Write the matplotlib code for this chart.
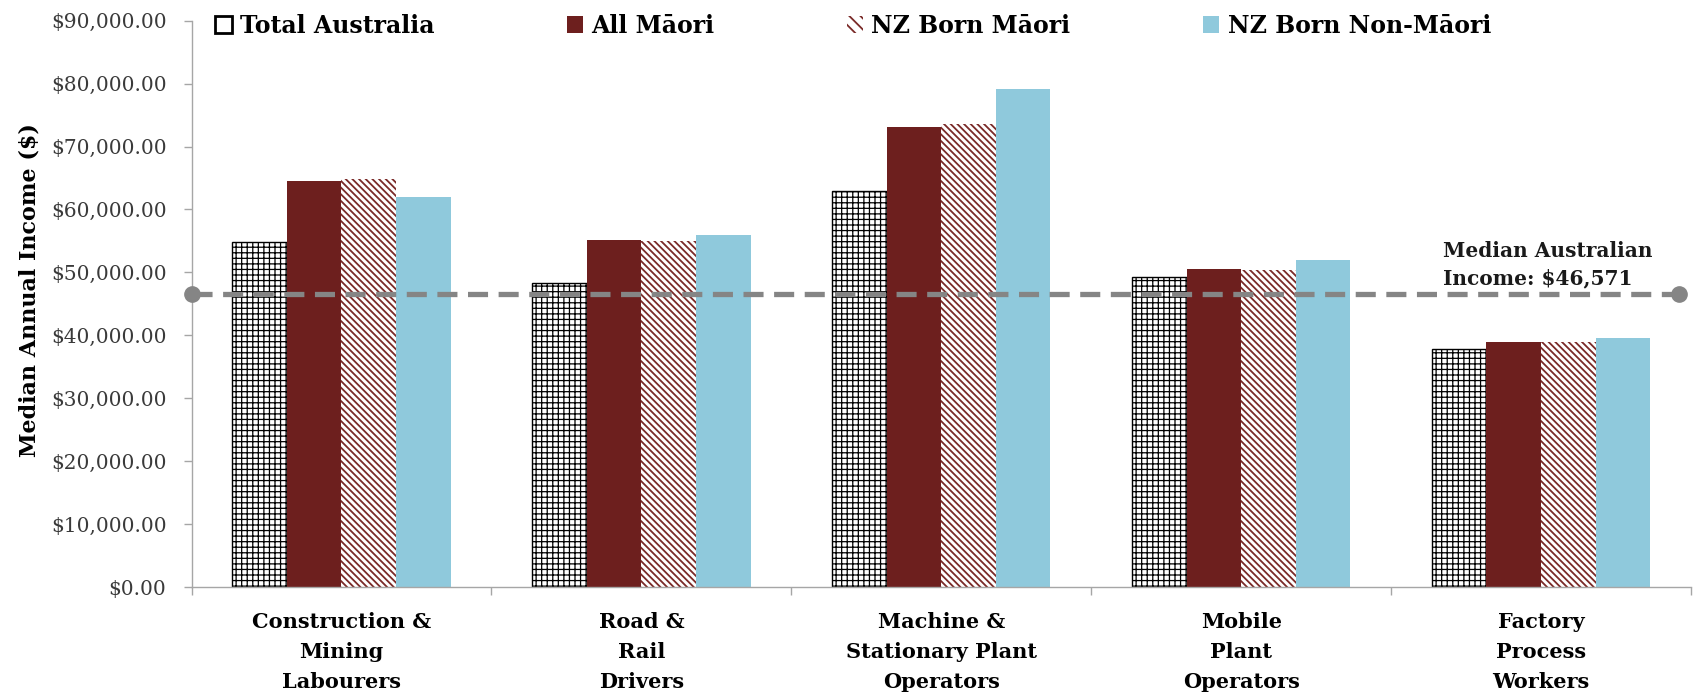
import numpy as np
import matplotlib
matplotlib.use("Agg")
import matplotlib.pyplot as plt
from matplotlib.patches import Patch
from matplotlib.ticker import FuncFormatter, FixedLocator

# Occupation groups and median annual income by population group
occupations = [
    "Construction &\nMining\nLabourers",
    "Road &\nRail\nDrivers",
    "Machine &\nStationary Plant\nOperators",
    "Mobile\nPlant\nOperators",
    "Factory\nProcess\nWorkers",
]
total_australia = [54800, 48300, 62900, 49300, 37900]
all_maori = [64600, 55100, 73100, 50600, 39000]
nz_born_maori = [64800, 55000, 73600, 50400, 38900]
nz_born_non_maori = [62000, 55900, 79100, 52000, 39600]
series_names = ["Total Australia", "All M\u0101ori", "NZ Born M\u0101ori", "NZ Born Non-M\u0101ori"]
median_income = 46571
median_label = "Median Australian\nIncome: $46,571"
y_ticks = np.arange(0, 90001, 10000)

DARK_RED = "#6D1F1E"
STRIPE_RED = "#7A2A28"
LIGHT_BLUE = "#8FC9DC"
AXIS_GREY = "#A6A6A6"
LINE_GREY = "#858585"

plt.rcParams["font.family"] = ["DejaVu Serif"]

fig = plt.figure(figsize=(17.04, 7.0), dpi=100)
W, H = 1704, 700
ax = fig.add_axes([191.5 / W, 1 - 587 / H, (1691 - 191.5) / W, (587 - 20.7) / H])

x = np.arange(len(occupations))
w = 0.182

plt.rcParams["hatch.linewidth"] = 0.9
ax.bar(x - 1.5 * w, total_australia, w, facecolor="white", edgecolor="black",
       hatch="+++", linewidth=1.0)
ax.bar(x - 0.5 * w, all_maori, w, color=DARK_RED, linewidth=0)
plt.rcParams["hatch.linewidth"] = 1.3
ax.bar(x + 0.5 * w, nz_born_maori, w, facecolor="white", edgecolor=STRIPE_RED,
       hatch="\\\\\\\\\\", linewidth=0)
ax.bar(x + 1.5 * w, nz_born_non_maori, w, color=LIGHT_BLUE, linewidth=0)

# Median income reference line with round end caps
line_x = [-0.5, 4.46]
ax.plot(line_x, [median_income] * 2, color=LINE_GREY, lw=3.8,
        dashes=(3.8, 2.0), zorder=5, clip_on=False)
ax.plot(line_x, [median_income] * 2, "o", color=LINE_GREY, ms=11, zorder=6,
        clip_on=False)
ax.text(3.673, 51200, median_label, ha="left", va="center", fontsize=14.5,
        fontweight="bold", linespacing=1.45, color="#1a1a1a")

ax.set_xlim(-0.5, 4.5)
ax.set_ylim(0, 90000)

ax.set_yticks(y_ticks)
ax.yaxis.set_major_formatter(FuncFormatter(lambda v, p: "${:,.2f}".format(v)))
ax.tick_params(axis="y", direction="out", length=6, width=1, color=AXIS_GREY,
               pad=12, labelsize=14.5, labelcolor="#3a3a3a")

ax.set_xticks(x)
ax.set_xticklabels(occupations, fontsize=15, fontweight="bold", linespacing=1.62)
ax.tick_params(axis="x", which="major", length=0, pad=18)
ax.xaxis.set_minor_locator(FixedLocator(np.arange(-0.5, 4.6, 1.0)))
ax.tick_params(axis="x", which="minor", direction="out", length=6, width=1,
               color=AXIS_GREY)

for side in ("top", "right"):
    ax.spines[side].set_visible(False)
for side in ("left", "bottom"):
    ax.spines[side].set_color(AXIS_GREY)
    ax.spines[side].set_linewidth(1.0)

fig.text(30 / W, 1 - 290 / H, "Median Annual Income ($)", rotation=90,
         ha="center", va="center", fontsize=16, fontweight="bold")

handles = [
    Patch(facecolor="white", edgecolor="black", linewidth=2.0),
    Patch(facecolor=DARK_RED, linewidth=0),
    Patch(facecolor="white", edgecolor=STRIPE_RED, hatch="\\\\\\", linewidth=0),
    Patch(facecolor=LIGHT_BLUE, linewidth=0),
]
fig.legend(handles, series_names, loc="center left",
           bbox_to_anchor=(215 / W, 1 - 26 / H), ncol=4, frameon=False,
           prop={"size": 17, "weight": "bold"}, handlelength=0.7,
           handleheight=0.75, handletextpad=0.35, columnspacing=5.6,
           borderpad=0, borderaxespad=0)

fig.savefig("out.png", dpi=100, facecolor="white")
